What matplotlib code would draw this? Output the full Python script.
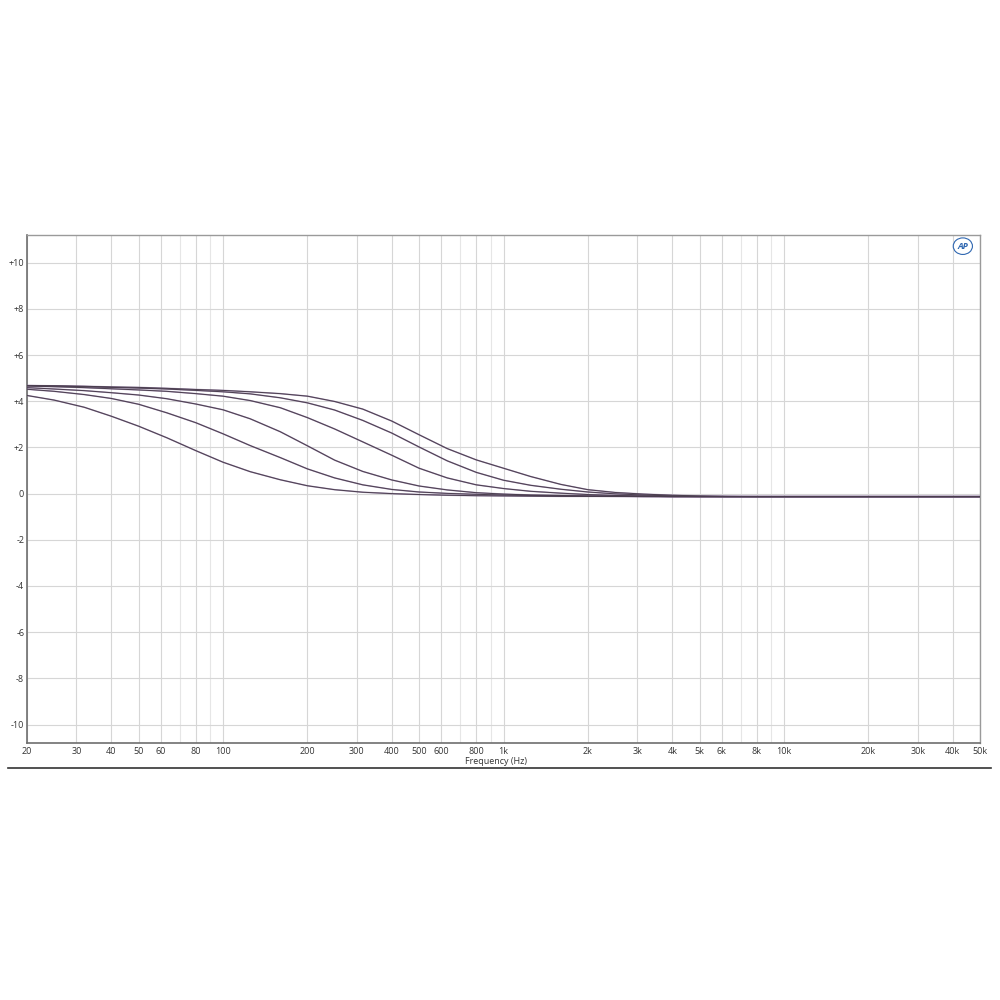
import matplotlib
matplotlib.use("Agg")
import matplotlib.pyplot as plt
from matplotlib.lines import Line2D

# frequency points (Hz), roughly 1/10 decade apart, and level (dB) of each shelf curve
freq = [20, 25, 32, 40, 50, 63, 80, 100, 125, 160, 200, 250, 315, 400, 500, 630,
        800, 1000, 1250, 1600, 2000, 2500, 3150, 4000, 5000, 6300, 8000, 10000,
        20000, 50000]

curve_a = [4.25, 4.05, 3.74, 3.35, 2.92, 2.42, 1.86, 1.36, 0.95, 0.60, 0.34, 0.17,
           0.06, 0.00, -0.04, -0.07, -0.09, -0.10, -0.11, -0.12, -0.12, -0.12,
           -0.13, -0.13, -0.13, -0.13, -0.13, -0.13, -0.13, -0.13]
curve_b = [4.52, 4.43, 4.29, 4.12, 3.87, 3.50, 3.07, 2.59, 2.08, 1.56, 1.07, 0.68,
           0.38, 0.18, 0.07, 0.01, -0.03, -0.06, -0.08, -0.10, -0.11, -0.12,
           -0.12, -0.13, -0.13, -0.13, -0.13, -0.13, -0.13, -0.13]
curve_c = [4.59, 4.53, 4.46, 4.37, 4.27, 4.11, 3.88, 3.63, 3.24, 2.68, 2.07, 1.45,
           0.96, 0.59, 0.33, 0.16, 0.04, -0.02, -0.06, -0.08, -0.10, -0.11,
           -0.12, -0.13, -0.13, -0.13, -0.13, -0.13, -0.13, -0.13]
curve_d = [4.66, 4.63, 4.59, 4.54, 4.49, 4.43, 4.33, 4.22, 4.03, 3.72, 3.29, 2.80,
           2.24, 1.66, 1.10, 0.68, 0.38, 0.22, 0.10, 0.02, -0.04, -0.08,
           -0.10, -0.12, -0.13, -0.13, -0.13, -0.13, -0.13, -0.13]
curve_e = [4.68, 4.66, 4.63, 4.60, 4.57, 4.53, 4.47, 4.41, 4.32, 4.15, 3.93, 3.62,
           3.17, 2.62, 2.02, 1.42, 0.92, 0.58, 0.36, 0.19, 0.07, -0.01,
           -0.06, -0.10, -0.12, -0.13, -0.13, -0.13, -0.13, -0.13]
curve_f = [4.68, 4.67, 4.65, 4.62, 4.60, 4.56, 4.51, 4.47, 4.41, 4.33, 4.22, 3.99,
           3.66, 3.14, 2.55, 1.95, 1.46, 1.10, 0.74, 0.40, 0.17, 0.05,
           -0.02, -0.07, -0.10, -0.12, -0.13, -0.13, -0.13, -0.13]

x_ticks = [20, 30, 40, 50, 60, 80, 100, 200, 300, 400, 500, 600, 800, 1000,
           2000, 3000, 4000, 5000, 6000, 8000, 10000, 20000, 30000, 40000, 50000]
x_labels = ['20', '30', '40', '50', '60', '80', '100', '200', '300', '400', '500',
            '600', '800', '1k', '2k', '3k', '4k', '5k', '6k', '8k', '10k', '20k',
            '30k', '40k', '50k']
x_minor = [70, 90, 700, 900, 7000, 9000]
y_ticks = [10, 8, 6, 4, 2, 0, -2, -4, -6, -8, -10]
y_labels = ['+10', '+8', '+6', '+4', '+2', '0', '-2', '-4', '-6', '-8', '-10']

plt.rcParams['font.family'] = ['Open Sans', 'DejaVu Sans']

fig = plt.figure(figsize=(10, 10), dpi=100)
ax = fig.add_axes([0.027, 0.257, 0.953, 0.508])
ax.set_xscale('log')
ax.set_xlim(20, 50000)
ax.set_ylim(-10.8, 11.2)

# grid
for f in x_ticks:
    ax.axvline(f, color='#d6d6d6', lw=0.8, zorder=0)
for f in x_minor:
    ax.axvline(f, color='#e6e6e6', lw=0.8, zorder=0)
for y in y_ticks:
    ax.axhline(y, color='#d6d6d6', lw=0.8, zorder=0)

for c in [curve_a, curve_b, curve_c, curve_d, curve_e, curve_f]:
    ax.plot(freq, c, color='#8a6f9c', lw=1.1, alpha=0.7, zorder=3)
    ax.plot(freq, c, color='#4a3e4e', lw=0.7, zorder=4)

ax.set_xticks(x_ticks)
ax.set_xticklabels(x_labels)
ax.set_xticks([], minor=True)
ax.set_yticks(y_ticks)
ax.set_yticklabels(y_labels)
ax.tick_params(axis='both', length=0, labelsize=6.5, colors='#333333')
ax.tick_params(axis='x', pad=3)
ax.tick_params(axis='y', pad=2)

for s in ['left', 'bottom']:
    ax.spines[s].set_color('#6e6e6e')
    ax.spines[s].set_linewidth(1.2)
for s in ['top', 'right']:
    ax.spines[s].set_color('#9a9a9a')
    ax.spines[s].set_linewidth(1.0)

fig.text(0.496, 0.239, 'Frequency (Hz)', ha='center', va='center', fontsize=6.5, color='#333333')
fig.add_artist(Line2D([0.008, 0.991], [0.2325, 0.2325], color='#333333', lw=1.2))

# AP logo
ax.text(0.982, 0.978, 'AP', transform=ax.transAxes, ha='center', va='center',
        fontsize=6.5, fontstyle='italic', fontweight='bold', color='#2f67b1',
        bbox=dict(boxstyle='ellipse,pad=0.15', fc='none', ec='#2f67b1', lw=0.8))

plt.savefig('out.png', dpi=100)
